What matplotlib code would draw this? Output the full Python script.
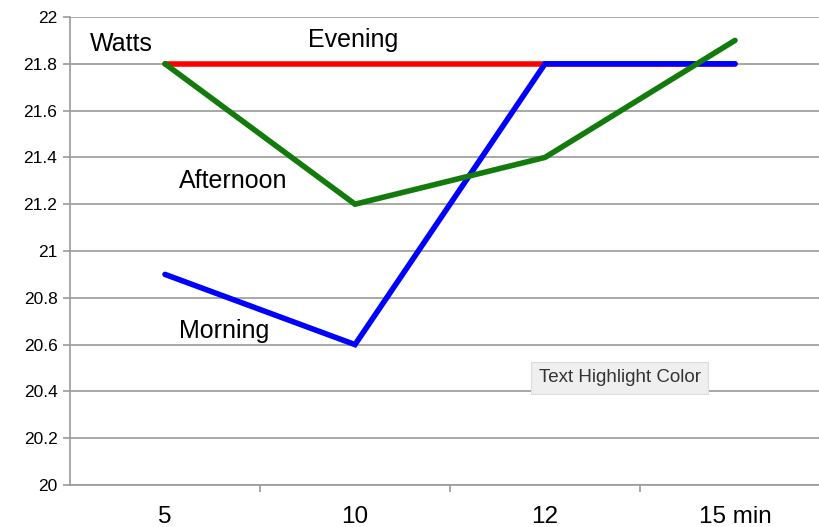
import matplotlib.pyplot as plt

plt.rcParams['font.family'] = ['Liberation Sans', 'DejaVu Sans']

categories = ['5', '10', '12', '15 min']
morning = [20.9, 20.6, 21.8, 21.8]
afternoon = [21.8, 21.2, 21.4, 21.9]
evening = [21.8, 21.8, 21.8, 21.8]
y_ticks = [20, 20.2, 20.4, 20.6, 20.8, 21, 21.2, 21.4, 21.6, 21.8, 22]
y_tick_labels = ['20', '20.2', '20.4', '20.6', '20.8', '21', '21.2', '21.4', '21.6', '21.8', '22']

fig = plt.figure(figsize=(8.2, 5.27), dpi=100)
ax = fig.add_axes([70 / 820, 1 - 485 / 527, 760 / 820, 468 / 527])

x = range(len(categories))
ax.plot(x, evening, color='#ff0000', lw=4, solid_capstyle='round', zorder=3)
ax.plot(x, morning, color='#0000ff', lw=4, solid_capstyle='round',
        solid_joinstyle='miter', zorder=4)
ax.plot(x, afternoon, color='#137a0c', lw=4, solid_capstyle='round',
        solid_joinstyle='miter', zorder=5)

ax.set_xlim(-0.5, 3.5)
ax.set_ylim(20, 22)
ax.set_yticks(y_ticks)
ax.set_yticklabels(y_tick_labels, fontsize=12.5)
ax.grid(axis='y', color='#9a9a9a', lw=1.2)
ax.set_axisbelow(True)

# category labels centred, tick marks between categories
ax.set_xticks([0.5, 1.5, 2.5])
ax.set_xticklabels([])
ax.set_xticks(list(x), minor=True)
ax.set_xticklabels(categories, minor=True, fontsize=17.5)
ax.tick_params(axis='x', which='minor', length=0, pad=15)
ax.tick_params(axis='x', which='major', length=5, color='#9a9a9a', width=1.2)
ax.tick_params(axis='y', length=5, color='#9a9a9a', width=1.2, pad=4)

for side in ['top', 'right']:
    ax.spines[side].set_visible(False)
for side in ['left', 'bottom']:
    ax.spines[side].set_color('#9a9a9a')
    ax.spines[side].set_linewidth(1.2)

ax.text(-0.23, 21.885, 'Watts', fontsize=18, ha='center', va='center')
ax.text(0.99, 21.9, 'Evening', fontsize=18, ha='center', va='center')
ax.text(0.36, 21.3, 'Afternoon', fontsize=18, ha='center', va='center')
ax.text(0.31, 20.66, 'Morning', fontsize=18, ha='center', va='center')

fig.text(620 / 820, 1 - 378 / 527, 'Text Highlight Color', fontsize=13.5,
         color='#333333', ha='center', va='center', zorder=10,
         bbox=dict(boxstyle='square,pad=0.4', fc='#efefef', ec='#dcdcdc', lw=0.8))

fig.savefig('out.png', dpi=100)
